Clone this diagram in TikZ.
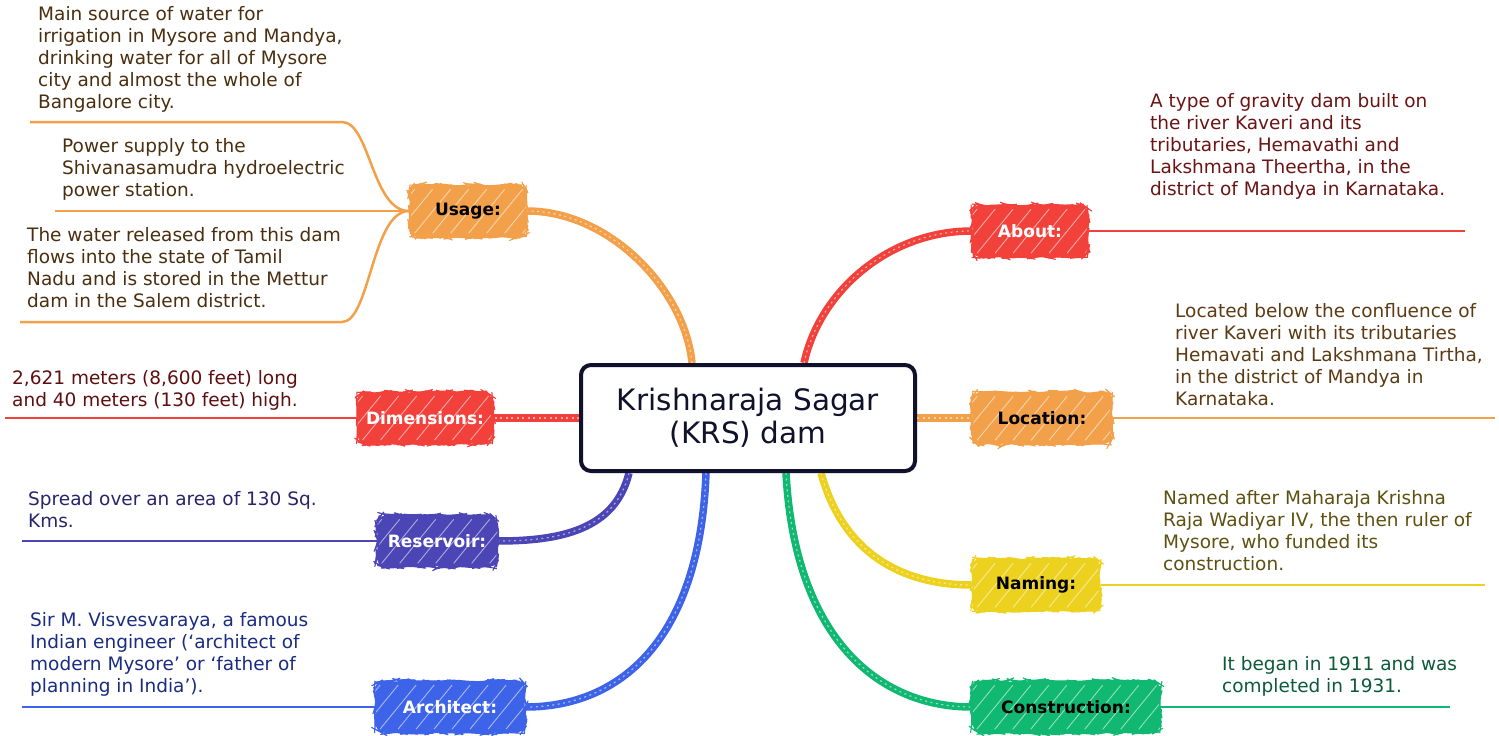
\documentclass[tikz,border=0pt]{standalone}
\usepackage{fontspec}
\setmainfont{DejaVu Sans}
\usetikzlibrary{calc,backgrounds,decorations.pathmorphing}
\definecolor{cOr}{HTML}{F3A04A}
\definecolor{cRed}{HTML}{F2413B}
\definecolor{cInd}{HTML}{4B45B5}
\definecolor{cYel}{HTML}{EDD11F}
\definecolor{cBlu}{HTML}{3D63E8}
\definecolor{cGrn}{HTML}{10B872}
\definecolor{cNavy}{HTML}{10112A}
\definecolor{tUs}{HTML}{4A2E0E}
\definecolor{tAb}{HTML}{6B1414}
\definecolor{tLo}{HTML}{5C3A12}
\definecolor{tDi}{HTML}{5E0E0E}
\definecolor{tRe}{HTML}{28246A}
\definecolor{tNa}{HTML}{5E5010}
\definecolor{tAr}{HTML}{1A2C82}
\definecolor{tCo}{HTML}{0B5A3A}
\tikzset{
  topic/.style={fill=#1, draw=#1, line width=1pt, rounded corners=9pt,
    minimum height=52pt, inner sep=0pt,
    font=\bfseries\fontsize{17}{19}\selectfont,
    decorate, decoration={random steps, segment length=5pt, amplitude=1.3pt},
    path picture={\foreach \k in {0,...,11} {\draw[white, opacity=.55, line width=.9pt]
      ($(path picture bounding box.south west)+(\k*18pt-30pt,5pt)$) -- ++(36pt,44pt);}}},
  branch/.style={draw=#1, line width=7.5pt,
    postaction={draw=white, line width=1.2pt, dash pattern=on 2pt off 3.5pt, draw opacity=.55}},
  detail/.style={draw=#1, line width=2.5pt},
  info/.style={anchor=north west, align=left, inner sep=0pt, text=#1,
    font=\fontsize{18.5}{22}\selectfont},
}
\begin{document}
\begin{tikzpicture}[x=1pt,y=-1pt]
\useasboundingbox (0,0) rectangle (1499,736);

% central node
\node[draw=cNavy, line width=4pt, rounded corners=10pt, fill=white,
  minimum width=334pt, minimum height=106pt, align=center, text=cNavy,
  font=\fontsize{29.5}{33}\selectfont] (c) at (748,418) {Krishnaraja Sagar\\(KRS) dam};

% topic nodes
\node[topic=cOr, minimum width=117pt] (usage) at (468,211) {Usage:};
\node[topic=cRed, minimum width=116pt, text=white] (about) at (1030,231) {About:};
\node[topic=cOr, minimum width=140pt] (loc) at (1042,418) {Location:};
\node[topic=cRed, minimum width=135pt, text=white] (dim) at (425,418) {Dimensions:};
\node[topic=cInd, minimum width=120pt, text=white] (res) at (437,541) {Reservoir:};
\node[topic=cYel, minimum width=128pt] (nam) at (1036,585) {Naming:};
\node[topic=cBlu, minimum width=150pt, text=white] (arch) at (450,707) {Architect:};
\node[topic=cGrn, minimum width=188pt] (cons) at (1066,707) {Construction:};

% info texts
\node[info=tUs] (u1) at (38,6) {Main source of water for\\irrigation in Mysore and Mandya,\\drinking water for all of Mysore\\city and almost the whole of\\Bangalore city.};
\node[info=tUs] (u2) at (62,138) {Power supply to the\\Shivanasamudra hydroelectric\\power station.};
\node[info=tUs] (u3) at (27,227) {The water released from this dam\\flows into the state of Tamil\\Nadu and is stored in the Mettur\\dam in the Salem district.};
\node[info=tAb] (ab) at (1150,93) {A type of gravity dam built on\\the river Kaveri and its\\tributaries, Hemavathi and\\Lakshmana Theertha, in the\\district of Mandya in Karnataka.};
\node[info=tLo] (lo) at (1175,303) {Located below the confluence of\\river Kaveri with its tributaries\\Hemavati and Lakshmana Tirtha,\\in the district of Mandya in\\Karnataka.};
\node[info=tDi] (di) at (12,370) {2,621 meters (8,600 feet) long\\and 40 meters (130 feet) high.};
\node[info=tRe] (re) at (28,491) {Spread over an area of 130 Sq.\\Kms.};
\node[info=tNa] (na) at (1163,490) {Named after Maharaja Krishna\\Raja Wadiyar IV, the then ruler of\\Mysore, who funded its\\construction.};
\node[info=tAr] (ar) at (30,612) {Sir M. Visvesvaraya, a famous\\Indian engineer (‘architect of\\modern Mysore' or ‘father of\\planning in India').};
\node[info=tCo] (co) at (1222,656) {It began in 1911 and was\\completed in 1931.};

% free ends of detail lines
\coordinate (u1e) at (30,122);
\coordinate (u2e) at (55,211);
\coordinate (u3e) at (20,322);
\coordinate (abe) at (1465,231);
\coordinate (loe) at (1495,418);
\coordinate (die) at (5,418);
\coordinate (ree) at (22,541);
\coordinate (nae) at (1485,585);
\coordinate (are) at (22,707);
\coordinate (coe) at (1450,707);

\begin{pgfonlayer}{background}
% branches from centre
\draw[branch=cOr] ($(c.north west)+(113,0)$) .. controls (685,290) and (610,211) .. (usage.east);
\draw[branch=cRed] ($(c.north west)+(225,0)$) .. controls (820,290) and (890,231) .. (about.west);
\draw[branch=cOr] (c.east) -- (loc.west);
\draw[branch=cRed] (c.west) -- (dim.east);
\draw[branch=cInd] ($(c.south west)+(50,0)$) .. controls (615,530) and (560,541) .. (res.east);
\draw[branch=cBlu] ($(c.south west)+(127,0)$) .. controls (700,640) and (620,707) .. (arch.east);
\draw[branch=cGrn] ($(c.south west)+(207,0)$) .. controls (795,640) and (880,707) .. (cons.west);
\draw[branch=cYel] ($(c.south west)+(242,0)$) .. controls (845,560) and (910,585) .. (nam.west);
% detail lines
\draw[detail=cOr] (usage.west) .. controls (372,211) and (370,122) .. (342,122) -- (u1e);
\draw[detail=cOr] (usage.west) -- (u2e);
\draw[detail=cOr] (usage.west) .. controls (372,211) and (370,322) .. (342,322) -- (u3e);
\draw[detail=cRed] (about.east) -- (abe);
\draw[detail=cOr] (loc.east) -- (loe);
\draw[detail=cRed] (dim.west) -- (die);
\draw[detail=cInd] (res.west) -- (ree);
\draw[detail=cYel] (nam.east) -- (nae);
\draw[detail=cBlu] (arch.west) -- (are);
\draw[detail=cGrn] (cons.east) -- (coe);
\end{pgfonlayer}
\end{tikzpicture}
\end{document}
